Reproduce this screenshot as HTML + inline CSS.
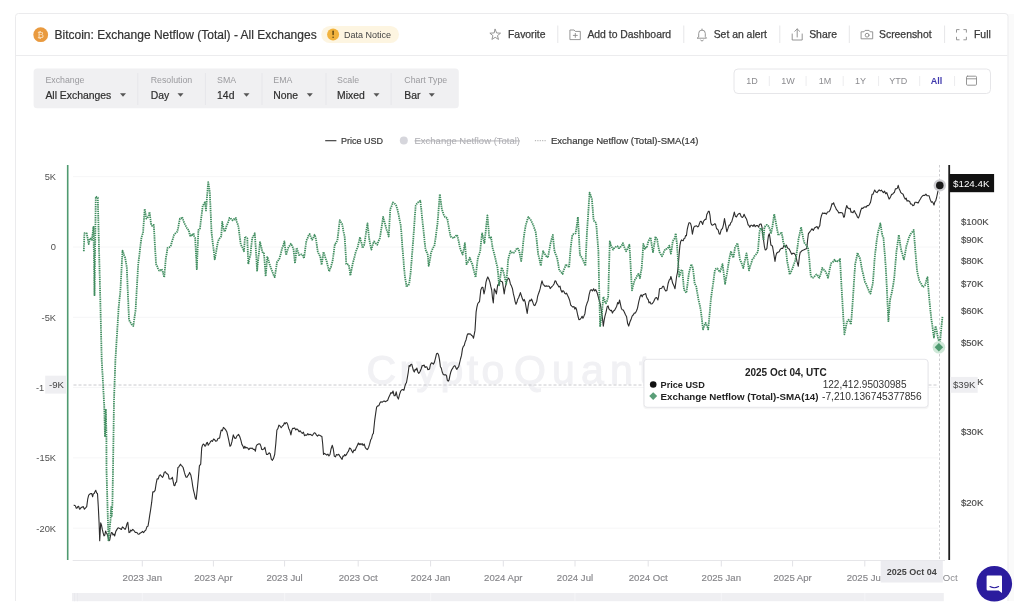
<!DOCTYPE html>
<html><head><meta charset="utf-8"><title>Bitcoin: Exchange Netflow (Total) - All Exchanges</title>
<style>
html,body{margin:0;padding:0;background:#fff;}
body{width:1024px;height:614px;overflow:hidden;position:relative;}
svg{position:absolute;left:0;top:0;display:block;}
</style></head>
<body>
<svg width="1024" height="614" viewBox="0 0 1024 614">
<rect x="1008" y="14" width="6" height="587" fill="#fafafa"/>
<rect x="15.5" y="13.5" width="992.5" height="600" rx="3" fill="#fff" stroke="#ebebed" stroke-width="1"/>
<rect x="0" y="601" width="1024" height="13" fill="#fff"/>
<line x1="16" y1="55.5" x2="1007.5" y2="55.5" stroke="#ececee" stroke-width="1"/>
<circle cx="40.7" cy="34.7" r="7.4" fill="#e99a3f"/>
<text x="40.7" y="38.1" font-family="'Liberation Sans', Arial, Helvetica, sans-serif" font-size="9" fill="#fbe3c4" text-anchor="middle">&#8383;</text>
<text x="54.5" y="39" font-family="'Liberation Sans', Arial, Helvetica, sans-serif" font-size="12" fill="#333" stroke="#333" stroke-width="0.2">Bitcoin: Exchange Netflow (Total) - All Exchanges</text>
<rect x="321.2" y="25.9" width="77.8" height="17.2" rx="8.6" fill="#fdf5e1"/>
<circle cx="333.1" cy="34.4" r="6" fill="#f2b33d"/>
<rect x="332.4" y="30.6" width="1.4" height="4.6" rx="0.6" fill="#5a4310"/>
<circle cx="333.1" cy="37.3" r="0.8" fill="#5a4310"/>
<text x="344" y="37.6" font-family="'Liberation Sans', Arial, Helvetica, sans-serif" font-size="9" fill="#444">Data Notice</text>
<g font-family="'Liberation Sans', Arial, Helvetica, sans-serif" font-size="10.4" fill="#3a3a3a" stroke="#3a3a3a" stroke-width="0.25"><text x="508" y="37.8">Favorite</text><text x="587.4" y="37.8">Add to Dashboard</text><text x="713.7" y="37.8">Set an alert</text><text x="809.2" y="37.8">Share</text><text x="879" y="37.8">Screenshot</text><text x="974" y="37.8">Full</text></g>
<line x1="557.8" y1="25.5" x2="557.8" y2="43" stroke="#e6e6e8" stroke-width="1"/>
<line x1="683.8" y1="25.5" x2="683.8" y2="43" stroke="#e6e6e8" stroke-width="1"/>
<line x1="779.8" y1="25.5" x2="779.8" y2="43" stroke="#e6e6e8" stroke-width="1"/>
<line x1="849.3" y1="25.5" x2="849.3" y2="43" stroke="#e6e6e8" stroke-width="1"/>
<line x1="944.6" y1="25.5" x2="944.6" y2="43" stroke="#e6e6e8" stroke-width="1"/>
<polygon points="495.20,29.30 496.61,32.96 500.53,33.17 497.48,35.64 498.49,39.43 495.20,37.30 491.91,39.43 492.92,35.64 489.87,33.17 493.79,32.96" fill="none" stroke="#8a8a8a" stroke-width="0.9" stroke-linejoin="round" stroke-linecap="round"/>
<path d="M570.3,30 h3.8 l1.2,1.4 h5 v8.2 h-10 z" fill="none" stroke="#8a8a8a" stroke-width="0.9" stroke-linejoin="round" stroke-linecap="round"/>
<path d="M575.3,33.4 v4 M573.3,35.4 h4" fill="none" stroke="#8a8a8a" stroke-width="0.9" stroke-linejoin="round" stroke-linecap="round"/>
<path d="M697.5,38.2 h9 l-1.2,-1.6 v-3.2 a3.3,3.3 0 0 0 -6.6,0 v3.2 z M700.6,40 a1.5,1.5 0 0 0 2.8,0 M702,29 v0.9" fill="none" stroke="#8a8a8a" stroke-width="0.9" stroke-linejoin="round" stroke-linecap="round"/>
<path d="M792.2,34 v6 h10 v-6 M797.2,37 v-8 M794.8,31.3 l2.4,-2.4 2.4,2.4" fill="none" stroke="#8a8a8a" stroke-width="0.9" stroke-linejoin="round" stroke-linecap="round"/>
<path d="M861.5,31.8 h2.5 l1.1,-1.4 h4 l1.1,1.4 h2.5 v7 h-11.2 z" fill="none" stroke="#8a8a8a" stroke-width="0.9" stroke-linejoin="round" stroke-linecap="round"/>
<circle cx="867.1" cy="35.2" r="1.9" fill="none" stroke="#8a8a8a" stroke-width="0.9" stroke-linejoin="round" stroke-linecap="round"/>
<path d="M956.5,32.2 v-2.6 h2.6 M963.8,29.6 h2.6 v2.6 M966.4,37.2 v2.6 h-2.6 M959.1,39.8 h-2.6 v-2.6" fill="none" stroke="#8a8a8a" stroke-width="0.9" stroke-linejoin="round" stroke-linecap="round"/>
<rect x="33.6" y="68.6" width="425.2" height="39.6" rx="3.5" fill="#f0f0f2"/>
<text x="45.4" y="83.3" font-family="'Liberation Sans', Arial, Helvetica, sans-serif" font-size="8.8" fill="#9a9a9e">Exchange</text>
<text x="45.4" y="98.6" font-family="'Liberation Sans', Arial, Helvetica, sans-serif" font-size="10.4" fill="#2e2e2e" stroke="#2e2e2e" stroke-width="0.2">All Exchanges</text>
<path d="M120,93.3 h6 l-3,3.4 z" fill="#555"/>
<text x="150.7" y="83.3" font-family="'Liberation Sans', Arial, Helvetica, sans-serif" font-size="8.8" fill="#9a9a9e">Resolution</text>
<text x="150.7" y="98.6" font-family="'Liberation Sans', Arial, Helvetica, sans-serif" font-size="10.4" fill="#2e2e2e" stroke="#2e2e2e" stroke-width="0.2">Day</text>
<path d="M177.5,93.3 h6 l-3,3.4 z" fill="#555"/>
<text x="217.1" y="83.3" font-family="'Liberation Sans', Arial, Helvetica, sans-serif" font-size="8.8" fill="#9a9a9e">SMA</text>
<text x="217.1" y="98.6" font-family="'Liberation Sans', Arial, Helvetica, sans-serif" font-size="10.4" fill="#2e2e2e" stroke="#2e2e2e" stroke-width="0.2">14d</text>
<path d="M243.5,93.3 h6 l-3,3.4 z" fill="#555"/>
<text x="273.3" y="83.3" font-family="'Liberation Sans', Arial, Helvetica, sans-serif" font-size="8.8" fill="#9a9a9e">EMA</text>
<text x="273.3" y="98.6" font-family="'Liberation Sans', Arial, Helvetica, sans-serif" font-size="10.4" fill="#2e2e2e" stroke="#2e2e2e" stroke-width="0.2">None</text>
<path d="M306.8,93.3 h6 l-3,3.4 z" fill="#555"/>
<text x="337.1" y="83.3" font-family="'Liberation Sans', Arial, Helvetica, sans-serif" font-size="8.8" fill="#9a9a9e">Scale</text>
<text x="337.1" y="98.6" font-family="'Liberation Sans', Arial, Helvetica, sans-serif" font-size="10.4" fill="#2e2e2e" stroke="#2e2e2e" stroke-width="0.2">Mixed</text>
<path d="M373.5,93.3 h6 l-3,3.4 z" fill="#555"/>
<text x="404.3" y="83.3" font-family="'Liberation Sans', Arial, Helvetica, sans-serif" font-size="8.8" fill="#9a9a9e">Chart Type</text>
<text x="404.3" y="98.6" font-family="'Liberation Sans', Arial, Helvetica, sans-serif" font-size="10.4" fill="#2e2e2e" stroke="#2e2e2e" stroke-width="0.2">Bar</text>
<path d="M428.8,93.3 h6 l-3,3.4 z" fill="#555"/>
<line x1="137.8" y1="73" x2="137.8" y2="105" stroke="#e6e6ea" stroke-width="1"/>
<line x1="205.4" y1="73" x2="205.4" y2="105" stroke="#e6e6ea" stroke-width="1"/>
<line x1="262" y1="73" x2="262" y2="105" stroke="#e6e6ea" stroke-width="1"/>
<line x1="326" y1="73" x2="326" y2="105" stroke="#e6e6ea" stroke-width="1"/>
<line x1="391.1" y1="73" x2="391.1" y2="105" stroke="#e6e6ea" stroke-width="1"/>
<rect x="734" y="69" width="256.5" height="24.5" rx="4" fill="#fff" stroke="#e6e6e9" stroke-width="1"/>
<text x="751.9" y="84" font-family="'Liberation Sans', Arial, Helvetica, sans-serif" font-size="9" font-weight="400" fill="#8c8c90" text-anchor="middle">1D</text>
<text x="788.1" y="84" font-family="'Liberation Sans', Arial, Helvetica, sans-serif" font-size="9" font-weight="400" fill="#8c8c90" text-anchor="middle">1W</text>
<text x="824.9" y="84" font-family="'Liberation Sans', Arial, Helvetica, sans-serif" font-size="9" font-weight="400" fill="#8c8c90" text-anchor="middle">1M</text>
<text x="860.6" y="84" font-family="'Liberation Sans', Arial, Helvetica, sans-serif" font-size="9" font-weight="400" fill="#8c8c90" text-anchor="middle">1Y</text>
<text x="898.2" y="84" font-family="'Liberation Sans', Arial, Helvetica, sans-serif" font-size="9" font-weight="400" fill="#8c8c90" text-anchor="middle">YTD</text>
<text x="936.6" y="84" font-family="'Liberation Sans', Arial, Helvetica, sans-serif" font-size="9" font-weight="700" fill="#3f38ad" text-anchor="middle">All</text>
<line x1="769.3" y1="76" x2="769.3" y2="86" stroke="#ececee" stroke-width="1"/>
<line x1="806.1" y1="76" x2="806.1" y2="86" stroke="#ececee" stroke-width="1"/>
<line x1="843.2" y1="76" x2="843.2" y2="86" stroke="#ececee" stroke-width="1"/>
<line x1="878.6" y1="76" x2="878.6" y2="86" stroke="#ececee" stroke-width="1"/>
<line x1="919.7" y1="76" x2="919.7" y2="86" stroke="#ececee" stroke-width="1"/>
<line x1="954.6" y1="76" x2="954.6" y2="86" stroke="#ececee" stroke-width="1"/>
<rect x="966.5" y="76.2" width="10" height="9" rx="1" fill="none" stroke="#8a8a8a" stroke-width="0.9" stroke-linejoin="round" stroke-linecap="round"/>
<line x1="966.5" y1="78.8" x2="976.5" y2="78.8" fill="none" stroke="#8a8a8a" stroke-width="0.9" stroke-linejoin="round" stroke-linecap="round"/>
<line x1="325.2" y1="140.7" x2="336.4" y2="140.7" stroke="#333" stroke-width="1.1"/>
<text x="340.9" y="143.6" font-family="'Liberation Sans', Arial, Helvetica, sans-serif" font-size="9" fill="#3a3a3a" stroke="#3a3a3a" stroke-width="0.2">Price USD</text>
<circle cx="403.8" cy="140.5" r="4" fill="#d6d6dc"/>
<text x="414.5" y="143.6" font-family="'Liberation Sans', Arial, Helvetica, sans-serif" font-size="9" fill="#adadb2" text-decoration="line-through" textLength="105.5" lengthAdjust="spacingAndGlyphs">Exchange Netflow (Total)</text>
<line x1="534.9" y1="140.7" x2="546.1" y2="140.7" stroke="#aaa" stroke-width="1" stroke-dasharray="1.2,1.2"/>
<text x="550.9" y="143.6" font-family="'Liberation Sans', Arial, Helvetica, sans-serif" font-size="9.6" fill="#3a3a3a" stroke="#3a3a3a" stroke-width="0.2" textLength="147.6" lengthAdjust="spacingAndGlyphs">Exchange Netflow (Total)-SMA(14)</text>
<line x1="73" y1="176.7" x2="938" y2="176.7" stroke="#f6f6f7" stroke-width="1"/>
<line x1="73" y1="247.0" x2="938" y2="247.0" stroke="#f6f6f7" stroke-width="1"/>
<line x1="73" y1="317.3" x2="938" y2="317.3" stroke="#f6f6f7" stroke-width="1"/>
<line x1="73" y1="387.6" x2="938" y2="387.6" stroke="#f6f6f7" stroke-width="1"/>
<line x1="73" y1="457.9" x2="938" y2="457.9" stroke="#f6f6f7" stroke-width="1"/>
<line x1="73" y1="528.2" x2="938" y2="528.2" stroke="#f6f6f7" stroke-width="1"/>
<text y="384" font-family="'Liberation Sans', Arial, Helvetica, sans-serif" font-size="41" fill="#f1f1f4" stroke="#f1f1f4" stroke-width="1.1"><tspan x="366.5" letter-spacing="3.4">Crypto</tspan><tspan x="514" letter-spacing="6.2">Quant</tspan></text>
<line x1="72.7" y1="560.5" x2="945" y2="560.5" stroke="#e6e6e9" stroke-width="1"/>
<line x1="142.3" y1="560.5" x2="142.3" y2="566.5" stroke="#e2e2e6" stroke-width="1"/>
<text x="142.3" y="581.2" font-family="'Liberation Sans', Arial, Helvetica, sans-serif" font-size="9.6" fill="#86868a" stroke="#86868a" stroke-width="0.15" text-anchor="middle">2023 Jan</text>
<line x1="213.4" y1="560.5" x2="213.4" y2="566.5" stroke="#e2e2e6" stroke-width="1"/>
<text x="213.4" y="581.2" font-family="'Liberation Sans', Arial, Helvetica, sans-serif" font-size="9.6" fill="#86868a" stroke="#86868a" stroke-width="0.15" text-anchor="middle">2023 Apr</text>
<line x1="284.6" y1="560.5" x2="284.6" y2="566.5" stroke="#e2e2e6" stroke-width="1"/>
<text x="284.6" y="581.2" font-family="'Liberation Sans', Arial, Helvetica, sans-serif" font-size="9.6" fill="#86868a" stroke="#86868a" stroke-width="0.15" text-anchor="middle">2023 Jul</text>
<line x1="358.2" y1="560.5" x2="358.2" y2="566.5" stroke="#e2e2e6" stroke-width="1"/>
<text x="358.2" y="581.2" font-family="'Liberation Sans', Arial, Helvetica, sans-serif" font-size="9.6" fill="#86868a" stroke="#86868a" stroke-width="0.15" text-anchor="middle">2023 Oct</text>
<line x1="430.6" y1="560.5" x2="430.6" y2="566.5" stroke="#e2e2e6" stroke-width="1"/>
<text x="430.6" y="581.2" font-family="'Liberation Sans', Arial, Helvetica, sans-serif" font-size="9.6" fill="#86868a" stroke="#86868a" stroke-width="0.15" text-anchor="middle">2024 Jan</text>
<line x1="503.3" y1="560.5" x2="503.3" y2="566.5" stroke="#e2e2e6" stroke-width="1"/>
<text x="503.3" y="581.2" font-family="'Liberation Sans', Arial, Helvetica, sans-serif" font-size="9.6" fill="#86868a" stroke="#86868a" stroke-width="0.15" text-anchor="middle">2024 Apr</text>
<line x1="575" y1="560.5" x2="575" y2="566.5" stroke="#e2e2e6" stroke-width="1"/>
<text x="575" y="581.2" font-family="'Liberation Sans', Arial, Helvetica, sans-serif" font-size="9.6" fill="#86868a" stroke="#86868a" stroke-width="0.15" text-anchor="middle">2024 Jul</text>
<line x1="648.2" y1="560.5" x2="648.2" y2="566.5" stroke="#e2e2e6" stroke-width="1"/>
<text x="648.2" y="581.2" font-family="'Liberation Sans', Arial, Helvetica, sans-serif" font-size="9.6" fill="#86868a" stroke="#86868a" stroke-width="0.15" text-anchor="middle">2024 Oct</text>
<line x1="721.3" y1="560.5" x2="721.3" y2="566.5" stroke="#e2e2e6" stroke-width="1"/>
<text x="721.3" y="581.2" font-family="'Liberation Sans', Arial, Helvetica, sans-serif" font-size="9.6" fill="#86868a" stroke="#86868a" stroke-width="0.15" text-anchor="middle">2025 Jan</text>
<line x1="792.6" y1="560.5" x2="792.6" y2="566.5" stroke="#e2e2e6" stroke-width="1"/>
<text x="792.6" y="581.2" font-family="'Liberation Sans', Arial, Helvetica, sans-serif" font-size="9.6" fill="#86868a" stroke="#86868a" stroke-width="0.15" text-anchor="middle">2025 Apr</text>
<line x1="864.8" y1="560.5" x2="864.8" y2="566.5" stroke="#e2e2e6" stroke-width="1"/>
<text x="864.8" y="581.2" font-family="'Liberation Sans', Arial, Helvetica, sans-serif" font-size="9.6" fill="#86868a" stroke="#86868a" stroke-width="0.15" text-anchor="middle">2025 Jul</text>
<text x="942.8" y="581.2" font-family="'Liberation Sans', Arial, Helvetica, sans-serif" font-size="9.6" fill="#8a8a8e">Oct</text>
<rect x="72" y="593" width="871.8" height="8.2" fill="#efeff2"/>
<line x1="142.3" y1="593" x2="142.3" y2="601.2" stroke="#f6f6f8" stroke-width="1"/>
<line x1="284.6" y1="593" x2="284.6" y2="601.2" stroke="#f6f6f8" stroke-width="1"/>
<line x1="430.6" y1="593" x2="430.6" y2="601.2" stroke="#f6f6f8" stroke-width="1"/>
<line x1="575" y1="593" x2="575" y2="601.2" stroke="#f6f6f8" stroke-width="1"/>
<line x1="721.3" y1="593" x2="721.3" y2="601.2" stroke="#f6f6f8" stroke-width="1"/>
<line x1="864.8" y1="593" x2="864.8" y2="601.2" stroke="#f6f6f8" stroke-width="1"/>
<line x1="74.5" y1="593" x2="74.5" y2="601.2" stroke="#e8e8ec" stroke-width="0.8"/>
<line x1="77.5" y1="593" x2="77.5" y2="601.2" stroke="#e8e8ec" stroke-width="0.8"/>
<text x="56" y="180.0" font-family="'Liberation Sans', Arial, Helvetica, sans-serif" font-size="9.3" fill="#505050" text-anchor="end">5K</text>
<text x="56" y="250.3" font-family="'Liberation Sans', Arial, Helvetica, sans-serif" font-size="9.3" fill="#505050" text-anchor="end">0</text>
<text x="56" y="320.6" font-family="'Liberation Sans', Arial, Helvetica, sans-serif" font-size="9.3" fill="#505050" text-anchor="end">-5K</text>
<text x="56" y="461.2" font-family="'Liberation Sans', Arial, Helvetica, sans-serif" font-size="9.3" fill="#505050" text-anchor="end">-15K</text>
<text x="56" y="531.5" font-family="'Liberation Sans', Arial, Helvetica, sans-serif" font-size="9.3" fill="#505050" text-anchor="end">-20K</text>
<text x="44.2" y="390.9" font-family="'Liberation Sans', Arial, Helvetica, sans-serif" font-size="9.3" fill="#505050" text-anchor="end">-1</text>
<text x="960.9" y="225.0" font-family="'Liberation Sans', Arial, Helvetica, sans-serif" font-size="9.6" fill="#4a4a4a" stroke="#4a4a4a" stroke-width="0.15">$100K</text>
<text x="960.9" y="243.4" font-family="'Liberation Sans', Arial, Helvetica, sans-serif" font-size="9.6" fill="#4a4a4a" stroke="#4a4a4a" stroke-width="0.15">$90K</text>
<text x="960.9" y="264.0" font-family="'Liberation Sans', Arial, Helvetica, sans-serif" font-size="9.6" fill="#4a4a4a" stroke="#4a4a4a" stroke-width="0.15">$80K</text>
<text x="960.9" y="287.3" font-family="'Liberation Sans', Arial, Helvetica, sans-serif" font-size="9.6" fill="#4a4a4a" stroke="#4a4a4a" stroke-width="0.15">$70K</text>
<text x="960.9" y="314.2" font-family="'Liberation Sans', Arial, Helvetica, sans-serif" font-size="9.6" fill="#4a4a4a" stroke="#4a4a4a" stroke-width="0.15">$60K</text>
<text x="960.9" y="346.0" font-family="'Liberation Sans', Arial, Helvetica, sans-serif" font-size="9.6" fill="#4a4a4a" stroke="#4a4a4a" stroke-width="0.15">$50K</text>
<text x="960.9" y="385.0" font-family="'Liberation Sans', Arial, Helvetica, sans-serif" font-size="9.6" fill="#4a4a4a" stroke="#4a4a4a" stroke-width="0.15">$40K</text>
<text x="960.9" y="435.2" font-family="'Liberation Sans', Arial, Helvetica, sans-serif" font-size="9.6" fill="#4a4a4a" stroke="#4a4a4a" stroke-width="0.15">$30K</text>
<text x="960.9" y="506.0" font-family="'Liberation Sans', Arial, Helvetica, sans-serif" font-size="9.6" fill="#4a4a4a" stroke="#4a4a4a" stroke-width="0.15">$20K</text>
<line x1="73.5" y1="385" x2="938" y2="385" stroke="#c4c4c8" stroke-width="0.9" stroke-dasharray="3,2"/>
<line x1="939.5" y1="165" x2="939.5" y2="560" stroke="#c8c8cc" stroke-width="0.9" stroke-dasharray="2.5,2"/>
<path d="M73.7,505.0 L74.6,505.4 L75.4,505.9 L76.3,508.2 L77.1,507.9 L77.9,506.6 L78.7,506.4 L79.5,509.2 L80.4,508.7 L81.2,507.4 L82.1,507.2 L83.2,506.6 L84.4,509.2 L85.6,507.9 L86.7,506.6 L87.7,499.2 L88.7,495.2 L89.8,494.1 L91.0,493.5 L91.8,493.6 L92.6,496.8 L93.4,493.7 L94.2,493.5 L95.0,491.6 L95.8,490.3 L96.7,493.1 L97.5,493.5 L98.3,506.8 L99.1,522.9 L99.7,540.8 L100.7,522.9 L101.5,525.2 L102.3,529.4 L103.2,533.1 L104.0,535.9 L104.8,535.1 L105.6,531.0 L106.4,532.9 L107.2,534.3 L108.1,537.2 L108.9,540.8 L109.7,540.1 L110.5,535.9 L111.3,532.6 L112.1,532.6 L113.0,535.0 L113.8,534.0 L114.7,535.9 L115.8,531.4 L117.0,529.4 L118.1,527.8 L119.2,528.2 L120.3,528.7 L121.4,529.5 L122.4,526.9 L123.5,527.7 L124.3,528.8 L125.1,529.4 L126.0,527.5 L126.9,524.1 L127.8,522.2 L129.0,532.6 L129.9,532.2 L130.8,530.0 L131.7,531.0 L132.6,529.4 L133.4,529.9 L134.3,531.0 L135.3,532.5 L136.2,532.4 L137.2,532.8 L138.2,534.3 L139.3,534.0 L140.3,533.0 L141.4,532.6 L142.5,531.3 L143.6,532.6 L144.7,531.0 L145.8,530.1 L146.9,526.8 L148.0,526.1 L148.9,520.9 L149.7,515.3 L150.6,509.8 L151.7,502.2 L152.8,491.9 L153.9,491.9 L155.1,490.3 L156.1,483.8 L157.1,478.9 L158.2,479.0 L159.3,475.6 L160.4,474.8 L161.5,476.4 L162.6,477.3 L163.4,475.8 L164.2,472.4 L165.3,471.7 L166.4,473.4 L167.5,474.0 L168.3,474.8 L169.1,478.9 L170.2,479.0 L171.3,478.8 L172.4,477.3 L173.2,481.6 L174.0,485.4 L174.9,485.7 L175.7,482.5 L176.6,482.1 L177.9,467.5 L178.8,467.1 L179.6,465.6 L180.5,464.2 L181.4,465.6 L182.2,466.2 L183.1,467.5 L184.4,472.4 L185.3,475.3 L186.1,477.3 L187.0,477.3 L187.9,475.6 L188.7,474.6 L189.6,472.4 L190.8,474.9 L191.9,480.5 L192.7,486.1 L193.5,490.3 L194.4,493.9 L195.3,498.1 L196.2,499.4 L197.5,487.0 L198.4,477.6 L199.4,465.9 L200.7,464.2 L201.7,448.0 L202.5,445.2 L203.3,444.0 L204.2,444.7 L205.0,446.3 L205.8,445.3 L206.6,443.0 L207.4,442.4 L208.2,445.3 L209.0,444.0 L209.8,443.0 L210.7,441.3 L211.5,440.6 L212.4,441.4 L213.6,439.0 L214.7,439.8 L215.8,441.3 L217.0,440.8 L217.9,438.6 L218.7,438.2 L219.6,438.2 L220.4,433.7 L221.2,430.0 L222.3,430.8 L223.4,427.4 L224.5,428.4 L225.7,429.9 L226.8,431.7 L227.8,435.9 L228.7,439.8 L230.0,446.3 L231.0,445.2 L232.0,441.4 L233.3,434.9 L234.2,437.1 L235.0,438.4 L235.9,438.2 L236.8,436.1 L237.6,435.3 L238.5,434.3 L239.7,436.5 L240.8,439.8 L241.9,444.4 L243.0,446.3 L243.9,448.5 L244.8,446.2 L245.7,448.0 L246.8,447.4 L247.8,448.1 L248.9,449.6 L250.0,448.1 L251.1,448.5 L252.2,448.0 L253.3,449.4 L254.3,449.3 L255.4,451.2 L256.2,446.2 L257.1,444.7 L258.1,444.2 L259.0,443.8 L260.0,444.0 L260.9,446.1 L261.7,449.4 L262.6,449.6 L263.8,449.1 L264.9,447.3 L265.7,451.0 L266.5,454.5 L267.4,454.4 L268.2,454.0 L269.1,452.8 L270.2,453.7 L271.3,459.2 L272.4,460.3 L273.5,458.4 L274.7,454.5 L275.8,443.6 L276.9,430.0 L277.9,428.6 L278.9,425.1 L280.0,426.0 L281.2,427.7 L282.4,426.0 L283.5,425.1 L284.4,422.8 L285.2,423.9 L286.1,422.5 L287.0,422.9 L287.8,424.9 L288.7,428.4 L289.8,430.6 L290.9,434.9 L291.8,430.4 L292.6,428.4 L293.7,428.4 L294.7,427.9 L295.8,430.0 L296.9,428.8 L298.0,429.9 L299.1,431.7 L300.2,430.8 L301.2,432.3 L302.3,433.3 L303.4,432.1 L304.5,435.7 L305.6,434.9 L306.7,435.3 L307.8,433.6 L308.9,434.9 L310.0,434.2 L311.0,434.8 L312.1,435.6 L313.2,434.3 L314.3,432.7 L315.4,433.3 L316.5,435.1 L317.5,436.1 L318.6,434.9 L319.7,435.3 L320.8,435.9 L321.9,436.5 L322.7,444.0 L323.5,454.5 L324.6,453.3 L325.7,454.3 L326.8,455.1 L327.9,454.1 L328.9,455.9 L330.0,454.5 L331.1,448.7 L332.3,445.3 L333.3,449.0 L334.3,456.1 L335.4,456.9 L336.5,454.5 L337.6,455.1 L338.7,454.3 L339.8,456.1 L341.0,457.9 L342.1,459.3 L343.0,456.0 L343.8,456.2 L344.7,454.5 L345.6,455.7 L346.4,454.7 L347.3,452.8 L348.5,451.1 L349.6,448.0 L350.7,448.7 L351.7,450.7 L352.8,452.8 L353.9,450.0 L355.0,450.6 L356.1,448.0 L357.2,445.7 L358.4,443.1 L359.3,444.6 L360.1,443.6 L361.0,444.7 L362.1,443.5 L363.1,445.4 L364.2,444.0 L365.3,447.6 L366.4,449.0 L367.5,449.6 L368.6,447.4 L369.6,444.2 L370.7,439.8 L371.6,438.5 L372.5,434.5 L373.4,433.3 L374.7,420.3 L375.6,413.8 L376.6,407.2 L377.8,405.9 L378.9,405.6 L380.0,402.8 L381.0,401.7 L382.1,402.3 L383.2,401.3 L384.3,401.0 L385.4,401.7 L386.5,401.0 L387.6,400.5 L388.7,397.5 L389.9,394.9 L391.0,392.6 L392.0,393.4 L393.0,391.0 L394.2,395.8 L395.2,395.6 L396.2,391.9 L397.3,397.1 L398.4,399.1 L399.5,394.6 L400.7,391.0 L401.8,389.8 L402.8,389.5 L403.9,390.3 L404.8,386.6 L405.6,384.0 L406.5,382.5 L407.4,377.3 L408.2,372.6 L409.1,365.5 L410.0,366.3 L410.8,364.6 L411.7,364.2 L412.6,367.4 L413.4,370.5 L414.3,372.0 L415.2,369.2 L416.0,370.0 L416.9,368.1 L417.9,372.2 L418.8,373.4 L419.9,371.8 L421.1,369.0 L422.2,365.5 L423.2,365.7 L424.1,365.0 L425.1,367.5 L426.1,366.8 L427.0,367.1 L427.8,369.6 L428.7,369.4 L429.6,368.9 L430.4,364.7 L431.3,362.9 L432.4,363.2 L433.4,364.2 L434.4,362.3 L435.5,358.1 L436.5,353.8 L437.6,353.3 L438.6,355.1 L439.5,359.6 L440.4,366.8 L441.3,368.1 L442.2,372.0 L443.3,374.4 L444.5,374.9 L445.6,374.7 L446.5,375.6 L447.3,380.2 L448.2,381.2 L449.1,379.9 L449.9,375.6 L450.8,372.0 L451.7,369.7 L452.5,368.7 L453.4,366.8 L454.3,365.9 L455.1,365.9 L456.0,368.1 L456.9,369.4 L457.7,367.8 L458.6,366.8 L459.6,363.0 L460.5,359.0 L461.5,355.4 L462.5,348.6 L463.4,346.2 L464.2,345.6 L465.1,342.1 L466.1,339.7 L467.2,335.0 L468.1,333.6 L469.0,334.3 L469.9,333.8 L470.8,334.4 L471.7,335.6 L472.6,336.0 L473.5,338.2 L474.2,334.6 L475.0,330.4 L476.1,312.1 L476.9,307.1 L477.7,303.8 L478.6,302.5 L479.5,301.7 L480.8,290.0 L481.9,287.4 L482.9,287.4 L484.0,293.9 L485.0,289.5 L486.0,282.1 L486.9,279.0 L487.8,276.9 L488.9,279.3 L489.9,282.1 L490.8,286.4 L491.7,290.0 L492.5,298.0 L493.3,303.0 L494.3,288.7 L495.4,291.0 L496.4,293.9 L497.7,284.8 L498.6,285.0 L499.4,282.1 L500.3,280.8 L501.4,281.6 L502.5,282.1 L503.4,288.1 L504.2,293.9 L505.1,287.8 L505.9,285.0 L506.8,280.8 L507.7,279.2 L508.5,278.1 L509.4,279.5 L510.4,283.9 L511.5,286.1 L512.5,288.8 L513.4,293.9 L514.3,297.3 L515.1,301.6 L516.0,304.3 L516.9,302.3 L517.7,299.3 L518.6,297.8 L519.5,295.3 L520.4,292.6 L521.5,296.0 L522.5,299.1 L523.4,301.0 L524.2,299.4 L525.1,301.7 L526.2,307.8 L527.2,313.4 L528.1,306.6 L529.0,301.7 L529.9,300.0 L530.7,300.9 L531.6,299.1 L532.5,301.3 L533.3,303.7 L534.2,305.6 L535.1,305.2 L536.0,303.0 L536.8,301.2 L537.6,296.5 L538.5,293.7 L539.4,291.3 L540.3,288.2 L541.1,284.3 L542.0,280.8 L543.3,284.8 L544.2,285.3 L545.0,286.4 L545.9,286.1 L546.8,285.9 L547.6,286.2 L548.5,286.1 L549.4,286.5 L550.2,288.6 L551.1,287.4 L552.1,286.5 L553.0,285.5 L554.0,284.0 L555.0,280.8 L555.9,281.3 L556.8,283.7 L557.7,284.8 L558.9,287.0 L560.0,286.1 L561.0,290.3 L562.0,292.3 L563.0,290.6 L563.9,291.4 L564.9,293.6 L565.8,293.9 L566.6,293.1 L567.5,295.2 L568.6,297.5 L569.6,300.2 L570.7,305.0 L571.8,306.1 L572.9,307.1 L574.0,306.6 L574.9,309.1 L575.7,307.5 L576.6,309.8 L577.8,315.5 L578.9,319.6 L580.0,319.4 L581.2,318.0 L582.1,316.2 L582.9,318.3 L583.8,316.4 L584.9,313.7 L585.9,306.7 L587.0,303.3 L588.1,300.6 L589.2,294.3 L590.3,290.3 L591.4,289.7 L592.5,291.0 L593.6,288.7 L594.7,291.0 L595.7,289.6 L596.8,291.9 L597.9,295.5 L599.0,299.6 L600.1,303.3 L600.9,307.6 L601.7,313.1 L602.5,318.5 L603.3,326.1 L604.1,320.6 L604.9,316.4 L606.0,312.3 L607.2,306.6 L608.1,305.9 L608.9,308.9 L609.8,309.8 L610.7,310.7 L611.5,310.3 L612.4,313.1 L613.5,310.9 L614.6,310.3 L615.7,308.2 L616.7,306.2 L617.7,302.5 L618.6,303.8 L619.6,300.0 L620.5,304.3 L621.3,308.2 L622.2,309.8 L623.3,310.0 L624.4,312.2 L625.5,314.7 L626.6,316.8 L627.6,323.3 L628.7,326.1 L629.9,322.0 L631.0,319.6 L632.1,316.1 L633.2,315.0 L634.3,313.1 L635.4,312.9 L636.4,311.0 L637.5,308.2 L638.8,301.6 L640.0,296.8 L641.1,294.8 L642.2,296.8 L643.3,294.5 L644.5,294.3 L645.7,293.6 L646.6,297.0 L647.5,299.0 L648.2,299.5 L649.0,303.0 L650.0,301.9 L651.0,304.0 L652.2,303.7 L653.5,302.0 L654.5,299.7 L655.4,298.0 L656.6,297.5 L657.9,300.0 L658.7,296.0 L659.5,288.8 L660.6,288.5 L661.7,288.2 L662.8,286.3 L663.6,286.2 L664.5,289.0 L665.7,291.0 L666.9,290.4 L668.1,283.5 L669.3,279.8 L670.1,279.5 L670.9,276.5 L671.8,279.6 L672.6,283.1 L673.8,285.4 L675.0,288.8 L675.8,282.8 L676.6,276.5 L677.5,272.3 L678.3,265.1 L679.1,254.5 L679.9,245.6 L680.7,241.4 L681.5,239.9 L682.4,240.4 L683.2,240.7 L684.0,238.6 L684.8,238.3 L685.6,235.6 L686.4,235.8 L687.2,229.7 L688.0,226.1 L688.9,222.8 L689.7,222.8 L690.5,223.4 L691.3,226.1 L692.4,234.2 L693.7,227.7 L694.5,226.2 L695.4,226.1 L696.6,225.8 L697.8,226.9 L698.6,226.2 L699.4,223.6 L700.2,221.6 L701.1,221.2 L701.9,222.8 L702.7,224.4 L703.5,221.2 L704.3,220.4 L705.1,219.4 L706.0,219.5 L706.8,214.5 L707.6,213.0 L708.4,211.3 L709.2,211.4 L710.0,215.4 L710.8,222.8 L711.6,224.8 L712.5,225.2 L713.7,224.6 L714.9,223.6 L715.7,224.9 L716.5,228.5 L717.4,229.2 L718.2,230.1 L719.1,233.7 L720.0,234.2 L721.2,229.9 L722.5,228.4 L723.5,224.6 L724.5,218.6 L725.6,224.9 L726.8,231.7 L728.0,228.4 L729.1,225.1 L730.0,225.2 L730.8,222.6 L731.7,221.9 L732.6,218.7 L733.4,216.0 L734.3,212.1 L735.4,216.3 L736.5,217.0 L737.6,214.8 L738.8,213.7 L740.0,213.4 L741.2,216.6 L742.4,217.5 L743.2,216.6 L744.1,214.2 L745.3,217.1 L746.5,219.0 L747.3,221.6 L748.1,224.8 L749.0,225.5 L749.8,227.2 L750.9,225.3 L751.9,225.3 L753.0,226.4 L754.1,224.6 L755.2,226.7 L756.3,225.6 L757.5,225.5 L758.7,227.2 L759.5,224.4 L760.4,224.0 L761.2,224.1 L762.0,227.2 L762.8,235.0 L763.6,240.3 L764.4,246.5 L765.2,250.0 L766.0,249.8 L766.9,248.4 L767.7,241.1 L768.5,235.4 L769.3,233.7 L770.1,238.5 L770.9,245.1 L771.8,245.2 L772.6,246.8 L773.4,251.5 L774.2,256.5 L775.0,261.4 L775.8,256.1 L776.6,253.3 L777.9,252.3 L779.1,251.7 L780.3,249.2 L781.5,248.4 L782.8,248.4 L784.0,245.1 L785.2,246.8 L786.4,245.1 L787.2,246.9 L788.0,248.4 L789.2,249.1 L790.5,251.7 L791.7,254.2 L792.9,253.3 L794.1,253.4 L795.4,254.9 L796.2,257.6 L797.0,261.4 L798.3,266.3 L799.4,256.5 L800.2,252.3 L801.1,251.7 L802.3,250.4 L803.5,250.0 L804.6,249.4 L805.7,248.9 L806.8,248.4 L807.6,240.0 L808.4,233.7 L809.6,232.1 L810.8,230.5 L812.0,228.7 L813.3,230.5 L814.5,228.0 L815.7,227.2 L817.0,226.6 L818.2,228.9 L819.0,226.9 L819.8,225.6 L820.6,219.1 L821.4,215.8 L822.6,212.9 L823.9,213.4 L825.1,213.1 L826.3,214.2 L827.5,212.0 L828.8,211.8 L829.6,210.9 L830.4,209.3 L831.2,206.6 L832.0,203.6 L832.8,204.1 L833.6,202.8 L834.5,205.4 L835.3,206.9 L836.5,209.7 L837.7,210.9 L838.9,213.1 L840.0,212.6 L840.9,212.6 L841.9,212.7 L842.8,213.7 L843.6,217.1 L844.4,217.0 L845.5,210.0 L846.7,205.6 L847.6,207.5 L848.4,208.3 L849.3,208.9 L850.2,208.3 L851.0,212.2 L851.9,212.1 L853.0,212.7 L854.2,210.5 L855.4,213.1 L856.5,214.7 L857.5,217.2 L858.4,218.0 L859.5,215.4 L860.7,210.5 L861.8,208.1 L862.9,208.4 L864.0,207.2 L865.1,206.7 L866.1,207.3 L867.2,205.6 L868.3,205.6 L869.4,204.6 L870.5,202.3 L871.3,198.6 L872.1,194.2 L873.0,194.2 L873.8,192.1 L874.7,190.0 L875.9,192.0 L877.0,192.6 L878.1,191.1 L879.2,189.8 L880.3,190.9 L881.4,190.1 L882.4,191.5 L883.5,192.6 L884.6,191.2 L885.7,193.8 L886.8,192.6 L888.0,196.1 L889.1,199.1 L890.0,197.9 L890.8,196.3 L891.7,194.2 L892.6,194.3 L893.4,193.1 L894.3,192.6 L895.4,188.9 L896.5,188.7 L897.4,188.1 L898.2,185.4 L899.1,188.7 L899.9,190.2 L900.8,192.6 L902.0,193.5 L903.1,194.2 L904.2,197.2 L905.3,199.1 L906.2,198.1 L907.0,201.0 L907.9,200.7 L908.8,200.9 L909.7,201.4 L910.6,204.0 L911.7,204.0 L912.8,205.6 L913.9,205.3 L915.0,202.3 L916.1,202.3 L917.2,202.6 L918.2,202.9 L919.3,200.7 L920.4,199.0 L921.5,197.0 L922.6,195.8 L923.7,195.2 L924.8,195.4 L925.9,194.2 L927.0,195.7 L928.0,195.7 L929.1,195.8 L930.2,199.6 L931.4,202.3 L932.3,201.7 L933.1,202.8 L934.0,205.0 L934.9,201.6 L935.7,200.9 L936.6,197.5 L937.8,191.9 L938.9,187.7 L939.9,185.4" fill="none" stroke="#2c2c2c" stroke-width="1.1" stroke-linejoin="round"/>
<path d="M83.8,251.2 L84.4,233.3 L85.6,232.8 L86.7,233.3 L87.7,238.7 L88.7,244.0 L90.0,238.2 L91.0,238.8 L91.9,239.8 L92.7,233.5 L93.5,226.8 L94.5,295.2 L95.8,196.5 L96.8,197.2 L97.8,197.5 L99.0,248.0 L100.3,300.0 L101.7,360.0 L102.8,379.1 L103.9,400.0 L104.2,405.0 L104.4,413.0 L104.6,421.0 L104.8,429.0 L105.0,437.0 L105.8,409.0 L106.0,417.0 L106.2,425.0 L106.4,433.0 L106.5,470.0 L107.5,506.1 L108.5,541.0 L109.5,530.1 L110.5,520.0 L110.8,513.0 L111.2,507.0 L111.8,516.0 L112.1,510.0 L112.4,504.0 L113.0,470.0 L114.0,400.0 L115.4,360.0 L116.5,342.3 L117.5,326.4 L118.6,308.2 L119.4,300.0 L120.3,292.0 L121.4,271.9 L122.5,250.6 L123.4,252.9 L124.2,255.6 L125.1,257.7 L125.9,262.0 L126.8,267.5 L127.9,293.8 L129.0,319.6 L129.9,321.9 L130.8,322.9 L131.7,324.5 L132.5,325.7 L133.3,326.0 L134.4,318.2 L135.6,309.8 L136.5,293.8 L137.3,279.9 L138.2,264.2 L139.3,255.7 L140.3,246.5 L141.4,238.2 L142.2,234.9 L143.0,233.3 L143.8,221.8 L144.7,208.9 L145.5,213.7 L146.3,218.6 L147.2,218.2 L148.0,217.0 L148.8,215.2 L149.6,212.0 L150.4,218.9 L151.2,225.0 L152.1,225.8 L152.9,224.8 L153.8,225.0 L154.9,245.1 L156.1,264.2 L157.2,266.3 L158.2,269.3 L159.3,270.7 L160.4,270.5 L161.6,269.0 L162.5,271.0 L163.3,273.9 L164.2,277.3 L165.1,267.0 L165.9,257.7 L166.7,253.7 L167.5,248.0 L168.6,247.3 L169.6,247.1 L170.7,246.3 L171.8,242.1 L172.9,238.7 L174.0,234.9 L175.1,233.6 L176.2,232.5 L177.3,231.7 L178.2,227.5 L179.0,223.1 L179.9,218.6 L181.0,218.5 L182.1,217.0 L183.2,220.0 L184.3,223.2 L185.4,225.1 L186.5,227.4 L187.6,229.3 L188.7,230.0 L189.5,233.6 L190.3,236.5 L191.4,234.8 L192.4,235.0 L193.5,233.3 L194.3,236.6 L195.2,238.2 L196.0,254.4 L196.8,269.1 L197.6,249.7 L198.4,230.0 L199.2,229.6 L200.0,228.4 L200.9,220.3 L201.8,213.8 L202.7,205.6 L203.8,204.1 L205.0,202.3 L206.0,210.5 L207.1,195.9 L208.2,182.1 L209.0,186.6 L209.8,192.6 L210.7,212.8 L211.5,231.7 L212.6,241.8 L213.6,249.4 L214.7,259.3 L215.8,253.9 L216.9,247.2 L218.0,241.4 L219.1,239.1 L220.1,237.8 L221.2,236.5 L222.2,221.9 L223.3,227.3 L224.5,231.7 L225.6,229.6 L226.6,225.4 L227.7,223.5 L228.6,221.0 L229.4,218.0 L230.5,217.9 L231.5,219.9 L232.6,220.3 L233.7,219.2 L234.8,219.5 L235.9,218.0 L236.8,221.8 L237.6,223.9 L238.5,226.8 L239.7,236.6 L240.8,244.7 L241.9,246.5 L242.9,248.3 L244.0,251.2 L245.0,236.5 L246.2,237.5 L247.3,238.2 L248.3,264.2 L249.4,258.5 L250.5,254.5 L251.3,245.8 L252.2,238.2 L253.1,236.4 L253.9,235.1 L254.8,233.3 L256.0,251.4 L257.1,270.7 L258.1,260.3 L259.0,252.3 L260.0,242.1 L261.2,246.7 L262.4,251.9 L263.2,253.5 L264.0,253.5 L264.9,265.6 L265.7,276.3 L266.5,266.3 L267.3,256.8 L268.6,260.8 L269.8,264.9 L271.0,268.2 L272.2,271.4 L273.4,274.5 L274.7,277.1 L275.9,269.6 L277.1,261.7 L278.3,260.2 L279.5,258.4 L280.8,253.7 L282.0,248.6 L283.2,245.7 L284.4,241.3 L285.2,248.2 L286.1,255.1 L287.3,250.9 L288.5,247.0 L289.7,245.7 L290.9,243.7 L292.1,245.7 L293.4,248.6 L294.2,255.6 L295.0,263.3 L295.8,256.4 L296.6,247.8 L297.9,251.5 L299.1,255.1 L300.3,254.8 L301.5,254.3 L302.8,255.5 L304.0,258.4 L305.2,249.3 L306.4,240.5 L307.5,238.5 L308.6,235.3 L309.7,234.0 L310.9,237.1 L312.1,239.7 L313.4,237.5 L314.6,234.8 L315.4,236.9 L316.2,240.5 L317.0,246.4 L317.8,251.9 L319.1,254.3 L320.3,256.8 L321.6,264.9 L322.6,258.7 L323.5,251.9 L324.6,254.9 L325.7,258.8 L326.8,261.7 L328.0,267.0 L329.2,271.4 L330.0,268.9 L330.8,268.2 L331.6,264.2 L332.5,261.7 L333.7,253.0 L334.9,243.7 L336.1,242.9 L337.4,240.5 L338.6,229.9 L339.8,220.1 L341.0,222.1 L342.2,224.2 L343.4,230.9 L344.7,237.2 L345.5,250.3 L346.3,264.1 L347.6,264.3 L348.8,264.9 L349.6,269.9 L350.4,275.5 L351.6,269.2 L352.8,263.3 L354.1,258.6 L355.3,253.5 L356.5,249.9 L357.7,247.0 L358.9,241.9 L360.0,237.2 L360.9,241.3 L361.7,243.5 L362.6,248.0 L363.4,246.5 L364.2,244.7 L365.3,238.1 L366.4,230.2 L367.5,223.5 L368.3,230.4 L369.1,238.2 L370.2,244.4 L371.4,249.6 L372.3,246.4 L373.1,243.6 L374.0,241.4 L375.1,242.4 L376.2,244.0 L377.3,244.7 L378.2,241.8 L379.0,240.0 L379.9,238.2 L381.0,230.8 L382.0,224.7 L383.1,217.0 L384.2,220.9 L385.4,225.1 L386.5,229.5 L387.6,232.1 L388.7,236.5 L389.5,222.4 L390.3,208.9 L391.2,207.0 L392.0,205.2 L392.9,202.3 L394.0,203.3 L395.1,204.0 L396.2,205.6 L397.3,209.0 L398.4,213.7 L399.5,219.5 L400.7,225.1 L401.6,235.4 L402.4,247.4 L403.3,257.7 L404.1,268.1 L405.0,277.3 L405.8,281.6 L406.6,287.0 L407.5,285.5 L408.3,285.4 L409.2,283.8 L410.5,274.0 L411.4,263.4 L412.2,252.8 L413.1,241.4 L414.0,229.2 L414.8,216.9 L415.7,205.6 L416.9,203.6 L418.0,202.3 L419.1,202.0 L420.3,200.7 L421.2,208.4 L422.0,216.7 L422.9,225.1 L423.8,233.1 L424.6,241.3 L425.5,249.6 L426.6,251.9 L427.7,254.5 L428.7,265.9 L429.9,260.1 L431.0,252.8 L432.1,250.0 L433.2,247.6 L434.3,246.3 L435.4,239.5 L436.4,231.8 L437.5,223.5 L438.6,209.7 L439.8,194.2 L440.8,201.4 L441.8,208.9 L442.9,212.4 L443.9,215.1 L445.0,217.0 L446.1,217.3 L447.3,218.6 L448.4,225.0 L449.5,231.1 L450.6,236.5 L451.7,237.4 L452.7,237.7 L453.8,238.2 L454.9,236.7 L456.0,235.7 L457.1,234.9 L458.1,238.8 L459.0,242.9 L460.0,248.0 L460.9,250.3 L461.7,251.9 L462.6,254.5 L463.8,249.4 L464.9,243.1 L465.7,252.8 L466.5,264.2 L467.6,262.8 L468.7,260.2 L469.8,257.7 L470.7,260.6 L471.5,262.7 L472.4,264.2 L473.5,269.3 L474.5,273.1 L475.6,277.3 L476.8,266.6 L477.9,257.7 L479.0,254.9 L480.2,251.2 L481.1,241.7 L482.1,233.3 L483.2,237.8 L484.4,243.1 L485.4,234.2 L486.4,224.7 L487.4,215.4 L488.4,226.6 L489.3,238.2 L490.1,238.1 L491.0,236.5 L491.8,242.5 L492.6,248.0 L493.5,250.9 L494.3,254.0 L495.2,257.7 L496.4,263.3 L497.5,267.5 L498.3,276.4 L499.1,285.4 L500.0,279.9 L500.8,273.2 L501.7,267.5 L502.9,270.2 L504.0,274.0 L505.1,279.0 L506.3,283.8 L507.2,272.1 L508.2,259.3 L509.4,254.7 L510.5,251.2 L511.6,252.3 L512.6,253.0 L513.7,252.8 L514.8,251.8 L515.9,250.2 L517.0,248.0 L518.1,248.7 L519.3,251.2 L520.2,256.3 L521.2,261.0 L522.4,251.1 L523.5,239.8 L524.6,231.6 L525.8,225.1 L526.7,222.0 L527.5,219.3 L528.4,217.0 L529.3,218.1 L530.1,219.1 L531.0,220.3 L532.1,222.7 L533.3,225.1 L534.5,228.9 L535.6,231.7 L536.5,238.4 L537.3,246.1 L538.2,254.5 L539.1,257.6 L539.9,261.4 L540.8,265.9 L542.0,257.8 L543.1,251.2 L544.2,253.7 L545.3,254.5 L546.2,256.2 L547.0,255.9 L547.9,257.7 L548.8,252.8 L549.7,247.6 L550.6,243.1 L551.7,238.7 L552.8,234.9 L553.6,242.8 L554.5,251.2 L555.4,253.6 L556.2,255.7 L557.1,257.7 L558.2,263.9 L559.3,270.7 L560.4,271.2 L561.5,272.6 L562.6,274.0 L563.7,270.1 L564.8,267.6 L565.9,264.2 L567.0,265.7 L568.0,266.2 L569.1,267.5 L569.9,257.0 L570.7,248.0 L571.5,240.9 L572.4,234.9 L573.5,234.1 L574.5,234.0 L575.6,233.3 L576.8,225.7 L577.9,217.0 L578.9,235.5 L579.9,254.5 L581.0,256.6 L582.1,257.7 L583.2,260.7 L584.3,263.0 L585.4,265.9 L586.2,248.6 L587.0,231.7 L587.9,218.7 L588.7,206.0 L589.6,192.6 L590.8,195.7 L591.9,199.1 L592.8,210.0 L593.6,220.3 L594.5,221.3 L595.3,222.0 L596.2,223.5 L597.3,237.4 L598.4,251.2 L599.2,289.0 L600.1,326.1 L600.9,320.5 L601.7,316.4 L602.5,306.5 L603.3,296.8 L604.2,298.8 L605.0,301.8 L605.9,303.3 L607.0,300.8 L608.2,296.8 L609.0,268.9 L609.8,241.4 L610.9,244.8 L612.0,247.4 L613.1,249.6 L614.2,248.1 L615.3,247.3 L616.4,246.3 L617.5,246.2 L618.5,248.0 L619.6,248.0 L620.7,246.7 L621.8,245.4 L622.9,243.1 L624.0,246.3 L625.0,248.8 L626.1,251.2 L627.2,249.5 L628.3,247.0 L629.4,244.7 L630.3,259.2 L631.1,275.3 L632.0,290.3 L633.1,285.6 L634.1,282.1 L635.2,278.9 L636.3,277.8 L637.4,274.8 L638.5,274.0 L639.2,275.4 L640.0,278.2 L640.8,272.6 L641.6,268.4 L642.5,256.9 L643.3,244.0 L644.1,245.9 L644.9,248.9 L645.7,247.6 L646.5,248.0 L647.3,245.8 L648.1,242.3 L649.4,239.2 L650.6,237.5 L651.8,245.4 L653.0,252.1 L654.2,244.7 L655.5,236.6 L656.3,238.5 L657.1,239.1 L658.3,246.4 L659.5,252.1 L660.8,254.3 L662.0,256.2 L663.2,253.9 L664.4,250.5 L665.6,248.9 L666.9,248.9 L668.1,247.7 L669.3,245.6 L670.1,249.7 L670.9,253.7 L671.8,248.4 L672.6,242.3 L673.4,240.0 L674.2,239.1 L675.0,236.7 L675.8,233.4 L677.1,245.6 L678.3,265.1 L679.1,276.5 L679.9,274.9 L680.7,271.7 L681.5,270.1 L682.3,270.0 L683.1,279.5 L684.0,289.6 L685.2,291.3 L686.4,292.8 L687.6,283.6 L688.9,273.3 L690.1,268.3 L691.3,264.3 L692.1,265.8 L692.9,268.4 L693.8,275.3 L694.6,283.1 L695.4,284.9 L696.2,286.3 L697.4,293.6 L698.6,300.0 L699.7,304.7 L700.7,309.8 L701.9,319.4 L703.0,329.4 L703.9,327.0 L704.7,324.8 L705.6,322.9 L706.5,324.9 L707.3,326.5 L708.2,329.4 L709.1,319.6 L709.9,310.7 L710.8,300.0 L711.6,293.8 L712.5,287.9 L713.7,279.4 L714.9,270.0 L716.1,268.6 L717.4,268.4 L718.3,269.8 L719.1,271.1 L720.0,271.7 L721.2,268.3 L722.5,264.2 L723.4,270.8 L724.2,277.2 L725.1,283.8 L726.2,277.5 L727.3,271.4 L728.4,264.2 L729.3,259.2 L730.1,254.8 L731.0,251.2 L732.1,254.9 L733.3,257.7 L734.1,253.6 L734.9,248.0 L735.8,246.4 L736.6,244.6 L737.5,243.1 L738.8,251.8 L740.0,259.8 L741.1,262.0 L742.2,264.8 L743.3,268.0 L744.4,262.6 L745.4,258.4 L746.5,253.3 L747.8,261.5 L749.0,270.4 L750.1,266.4 L751.1,263.7 L752.2,259.8 L753.3,259.0 L754.4,256.2 L755.5,254.9 L756.7,253.7 L757.9,251.7 L758.7,241.7 L759.5,232.0 L760.4,228.0 L761.2,229.1 L762.0,229.0 L762.8,234.8 L763.6,240.3 L764.4,227.2 L765.6,225.6 L766.9,224.8 L768.0,225.5 L769.0,227.2 L770.0,229.6 L771.0,233.7 L771.8,229.6 L772.6,225.6 L773.4,219.7 L774.2,214.2 L775.0,217.7 L775.8,222.3 L777.0,228.6 L778.3,235.4 L779.1,234.2 L779.9,233.7 L780.7,233.4 L781.5,232.1 L782.4,236.4 L783.2,241.9 L784.4,245.2 L785.6,246.8 L786.4,254.1 L787.2,261.4 L788.5,268.1 L789.7,274.5 L790.5,272.8 L791.3,271.2 L792.5,268.6 L793.7,264.7 L795.0,261.2 L796.2,256.5 L797.4,247.7 L798.6,238.6 L799.9,232.9 L801.1,227.2 L801.9,231.7 L802.7,235.4 L803.5,239.7 L804.3,242.7 L805.5,244.2 L806.8,246.0 L808.1,248.4 L809.2,258.2 L810.0,267.6 L810.8,276.1 L812.0,277.7 L813.3,277.7 L814.4,276.6 L815.4,275.1 L816.5,274.5 L817.5,275.1 L818.5,277.0 L819.5,277.7 L820.4,274.8 L821.3,272.1 L822.2,268.0 L823.5,269.6 L824.7,270.0 L825.8,272.1 L826.9,274.6 L828.0,277.7 L829.1,272.4 L830.1,267.4 L831.2,263.1 L832.3,262.4 L833.4,261.5 L834.5,259.8 L835.6,261.1 L836.6,260.4 L837.7,261.4 L838.9,260.9 L840.0,259.0 L841.0,277.6 L842.1,296.8 L843.2,315.4 L844.4,334.3 L845.5,329.0 L846.7,322.9 L847.7,320.5 L848.7,319.6 L849.8,321.3 L850.9,324.5 L851.8,314.5 L852.6,303.3 L853.5,289.9 L854.3,277.0 L855.2,264.2 L856.4,258.6 L857.5,252.8 L858.6,255.6 L859.7,257.7 L860.6,261.1 L861.4,266.1 L862.3,270.7 L863.2,274.4 L864.1,278.3 L865.0,282.1 L866.1,284.0 L867.2,287.0 L868.3,289.4 L869.4,292.2 L870.5,293.6 L871.6,288.5 L872.8,283.8 L873.8,270.8 L874.7,257.7 L875.9,247.3 L877.0,238.2 L877.8,233.7 L878.6,230.0 L879.5,227.0 L880.3,223.5 L881.1,227.7 L881.9,233.3 L882.7,236.4 L883.5,238.2 L884.3,248.7 L885.1,257.7 L886.0,271.6 L886.8,287.0 L887.6,304.9 L888.4,321.2 L889.2,310.4 L890.0,300.0 L891.1,295.6 L892.3,290.3 L893.3,284.3 L894.3,277.3 L895.4,263.9 L896.5,251.2 L897.6,243.4 L898.8,234.9 L899.7,240.6 L900.5,246.3 L901.4,251.2 L902.3,253.5 L903.1,257.1 L904.0,259.3 L905.1,253.6 L906.3,246.3 L907.5,242.6 L908.6,238.2 L909.5,236.6 L910.3,234.2 L911.2,233.3 L912.1,232.2 L912.9,230.8 L913.8,230.0 L915.1,248.0 L916.1,259.7 L917.1,270.7 L918.2,275.9 L919.3,280.5 L920.4,282.8 L921.5,284.3 L922.6,287.0 L923.8,286.5 L924.9,285.4 L925.8,282.9 L926.6,279.4 L927.5,277.3 L928.3,287.8 L929.1,296.8 L930.2,308.5 L931.4,319.6 L932.3,324.9 L933.1,332.3 L934.0,337.5 L934.8,331.2 L935.6,326.1 L936.8,331.5 L937.9,337.5 L938.9,341.1 L939.9,344.0 L941.2,329.4 L942.5,316.4" fill="none" stroke="#418e60" stroke-width="1.8" stroke-dasharray="1.4,0.8" stroke-linejoin="round"/>
<line x1="67.7" y1="165" x2="67.7" y2="560" stroke="#4f9a70" stroke-width="1.6"/>
<line x1="949.2" y1="165" x2="949.2" y2="560" stroke="#1e1e1e" stroke-width="1.8"/>
<circle cx="939.8" cy="185.4" r="6.2" fill="#cfcfd3"/>
<circle cx="939.8" cy="185.4" r="3.8" fill="#1a1a1a"/>
<circle cx="938.9" cy="347.3" r="6.3" fill="#cfe8d8"/>
<rect x="935.9" y="344.3" width="6" height="6" fill="#4f9a70" transform="rotate(45 938.9 347.3)"/>
<rect x="949.5" y="174" width="44.6" height="18.2" fill="#111"/>
<text x="953" y="187.2" font-family="'Liberation Sans', Arial, Helvetica, sans-serif" font-size="9.8" fill="#fff">$124.4K</text>
<rect x="950.1" y="376.9" width="27.6" height="15.9" fill="#efeff2"/>
<text x="953" y="387.8" font-family="'Liberation Sans', Arial, Helvetica, sans-serif" font-size="9.6" fill="#444">$39K</text>
<rect x="45.2" y="375.7" width="21.2" height="17.9" fill="#efeff2"/>
<text x="64" y="388.3" font-family="'Liberation Sans', Arial, Helvetica, sans-serif" font-size="9.6" fill="#444" text-anchor="end">-9K</text>
<rect x="880.7" y="560.6" width="62.1" height="21.9" fill="#ececf0"/>
<text x="911.8" y="575.4" font-family="'Liberation Sans', Arial, Helvetica, sans-serif" font-size="9" font-weight="700" fill="#444" text-anchor="middle">2025 Oct 04</text>
<rect x="643" y="360.3" width="286" height="49" rx="4" fill="#000" opacity="0.035"/>
<rect x="644" y="359.3" width="284" height="48" rx="3" fill="#fff" stroke="#e6e6ea" stroke-width="1"/>
<text x="785.8" y="375.8" font-family="'Liberation Sans', Arial, Helvetica, sans-serif" font-size="10" font-weight="700" fill="#222" text-anchor="middle">2025 Oct 04, UTC</text>
<circle cx="653.2" cy="384.5" r="3.3" fill="#111"/>
<rect x="650.4" y="393.3" width="5.6" height="5.6" fill="#5a9e78" transform="rotate(45 653.2 396.1)"/>
<text x="660.6" y="388" font-family="'Liberation Sans', Arial, Helvetica, sans-serif" font-size="9.8" font-weight="700" fill="#222" textLength="44.2" lengthAdjust="spacingAndGlyphs">Price USD</text>
<text x="660.6" y="399.6" font-family="'Liberation Sans', Arial, Helvetica, sans-serif" font-size="9.8" font-weight="700" fill="#222" textLength="157.9" lengthAdjust="spacingAndGlyphs">Exchange Netflow (Total)-SMA(14)</text>
<text x="822.7" y="388" font-family="'Liberation Sans', Arial, Helvetica, sans-serif" font-size="10.2" fill="#333" textLength="83.8" lengthAdjust="spacingAndGlyphs">122,412.95030985</text>
<text x="822" y="399.6" font-family="'Liberation Sans', Arial, Helvetica, sans-serif" font-size="10.2" fill="#333">-7,210.136745377856</text>
<circle cx="994.3" cy="583.8" r="17.8" fill="#2b1c9e"/>
<path d="M987.8,575.6 h13 a1.2,1.2 0 0 1 1.2,1.2 v16.2 l-3.4,-2.6 h-10.8 a1.2,1.2 0 0 1 -1.2,-1.2 v-12.4 a1.2,1.2 0 0 1 1.2,-1.2 z" fill="#fff"/>
<path d="M990,586.6 q4.3,2.4 8.6,0" fill="none" stroke="#2b1c9e" stroke-width="1.1" stroke-linecap="round"/>
</svg>
</body></html>
